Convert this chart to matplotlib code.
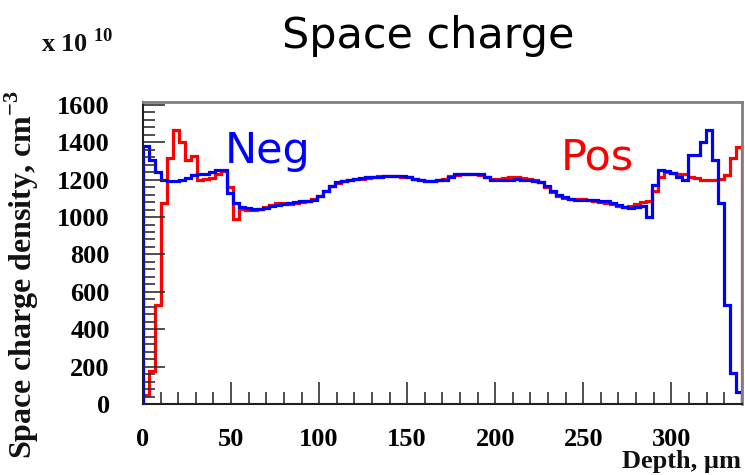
import numpy as np
import matplotlib.pyplot as plt
from matplotlib.ticker import MultipleLocator

plt.rcParams['mathtext.fontset'] = 'custom'
plt.rcParams['mathtext.rm'] = 'Liberation Serif'
plt.rcParams['mathtext.bf'] = 'Liberation Serif:bold'

# histogram: 100 bins over 0-340 um
depth_min, depth_max, n_bins = 0.0, 340.0, 100

# negative-side profile (blue)
neg = [1380, 1305, 1240, 1200, 1195, 1195, 1200, 1210, 1225, 1230,
       1230, 1240, 1250, 1250, 1130, 1075, 1055, 1048, 1045, 1045,
       1050, 1060, 1065, 1070, 1075, 1080, 1085, 1085, 1090, 1110,
       1140, 1165, 1185, 1195, 1200, 1205, 1210, 1212, 1215, 1215,
       1218, 1220, 1220, 1220, 1215, 1205, 1198, 1195, 1195, 1198,
       1200, 1215, 1228, 1232, 1232, 1230, 1228, 1215, 1200, 1198,
       1200, 1200, 1202, 1200, 1198, 1195, 1185, 1165, 1140, 1120,
       1105, 1095, 1090, 1090, 1090, 1090, 1088, 1085, 1075, 1065,
       1055, 1050, 1055, 1060, 1000, 1170, 1250, 1245, 1235, 1215,
       1200, 1332, 1332, 1403, 1465, 1305, 1073, 529, 164, 66]

# positive-side profile (red)
pos = [50, 175, 530, 1075, 1315, 1465, 1400, 1305, 1325, 1200,
       1205, 1210, 1230, 1245, 1160, 990, 1045, 1040, 1040, 1045,
       1055, 1065, 1075, 1075, 1070, 1075, 1080, 1085, 1095, 1115,
       1140, 1165, 1180, 1195, 1200, 1205, 1205, 1210, 1215, 1218,
       1218, 1220, 1218, 1215, 1212, 1205, 1198, 1195, 1195, 1198,
       1205, 1218, 1225, 1230, 1232, 1230, 1225, 1215, 1205, 1205,
       1208, 1212, 1212, 1210, 1205, 1200, 1185, 1162, 1135, 1115,
       1100, 1095, 1095, 1095, 1090, 1085, 1080, 1075, 1070, 1060,
       1055, 1060, 1070, 1080, 1085, 1140, 1215, 1240, 1235, 1232,
       1228, 1215, 1208, 1200, 1200, 1200, 1205, 1225, 1314, 1376]

edges = np.linspace(depth_min, depth_max, n_bins + 1)

fig = plt.figure(figsize=(7.45, 4.75), dpi=100)
ax = fig.add_axes([0.192, 0.1495, 0.8036, 0.6368])

ax.stairs(pos, edges, baseline=0, color='#ff0000', lw=2.3)
ax.stairs(neg, edges, baseline=0, color='#0000ff', lw=2.3)

ax.set_xlim(depth_min, depth_max)
ax.set_ylim(0, 1618)

ax.xaxis.set_major_locator(MultipleLocator(50))
ax.xaxis.set_minor_locator(MultipleLocator(10))
ax.yaxis.set_major_locator(MultipleLocator(200))
ax.yaxis.set_minor_locator(MultipleLocator(40))

ax.tick_params(which='both', direction='in', top=False, right=False,
               color='#303030', width=1.2)
ax.tick_params(which='major', length=16)
ax.tick_params(which='minor', length=8.5)
ax.tick_params(axis='x', pad=17)
ax.tick_params(axis='y', pad=24)

for lab in ax.get_xticklabels() + ax.get_yticklabels():
    lab.set_fontfamily('Liberation Serif')
    lab.set_fontweight('bold')
    lab.set_fontsize(19)

for side in ['top', 'right']:
    ax.spines[side].set_color('#808080')
    ax.spines[side].set_linewidth(2)
for side in ['left', 'bottom']:
    ax.spines[side].set_color('#202020')
    ax.spines[side].set_linewidth(1.5)

serif = dict(family='Liberation Serif', weight='bold', color='#111111')
fig.text(0.03, 0.81, 'Space charge density, cm$^{\\mathbf{-3}}$', rotation=90,
         ha='center', va='top', fontsize=23, **serif)
fig.text(0.995, 0.005, 'Depth, \u00b5m', ha='right', va='bottom', fontsize=19, **serif)
fig.text(0.055, 0.91, 'x 10$^{\\mathbf{\\ 10}}$', ha='left', va='center', fontsize=19, **serif)

fig.text(0.575, 0.925, 'Space charge', ha='center', va='center',
         fontsize=31, family='DejaVu Sans', color='black')
ax.text(0.137, 0.835, 'Neg', transform=ax.transAxes, fontsize=31,
        family='DejaVu Sans', color='#0000ff', ha='left', va='center')
ax.text(0.697, 0.815, 'Pos', transform=ax.transAxes, fontsize=31,
        family='DejaVu Sans', color='#ff0000', ha='left', va='center')

fig.savefig('out.png', dpi=100)
